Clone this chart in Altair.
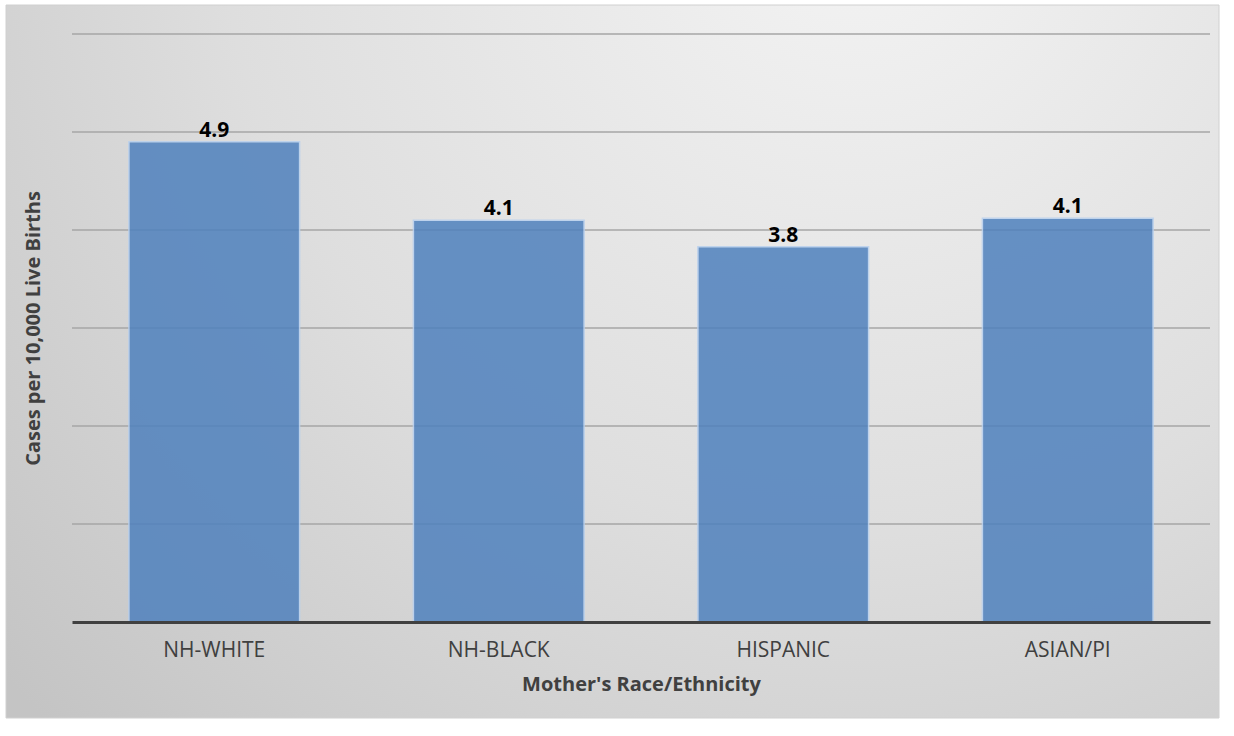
import altair as alt
import pandas as pd

categories = ["NH-WHITE", "NH-BLACK", "HISPANIC", "ASIAN/PI"]
values = [4.9, 4.1, 3.83, 4.12]
labels = ["4.9", "4.1", "3.8", "4.1"]
grid_values = [1, 2, 3, 4, 5, 6]

df = pd.DataFrame({"cat": categories, "val": values, "lbl": labels})
gdf = pd.DataFrame({"g": grid_values})

FONT = "Open Sans"

bg = alt.Chart(pd.DataFrame({"a": [0]})).mark_rect(
    color=alt.Gradient(
        gradient="radial",
        x1=0.7, y1=0.12, r1=0.0,
        x2=0.7, y2=0.12, r2=0.95,
        stops=[alt.GradientStop(color="#f4f4f4", offset=0),
               alt.GradientStop(color="#dedede", offset=0.55),
               alt.GradientStop(color="#c4c4c4", offset=1)],
    ),
    stroke="#d0d0d0",
    strokeWidth=1,
).encode(
    x=alt.value(-66), x2=alt.value(1147),
    y=alt.value(-29), y2=alt.value(684),
)

yscale = alt.Scale(domain=[0, 6])
yaxis = alt.Axis(title="Cases per 10,000 Live Births",
                 labels=False, ticks=False, domain=False, grid=False,
                 titleFont=FONT, titleFontSize=20, titleFontWeight="bold",
                 titleColor="#404040", titlePadding=29, zindex=1)

grid = alt.Chart(gdf).mark_rule(color="#a6a6a6", strokeWidth=1.5).encode(
    y=alt.Y("g:Q", scale=yscale, axis=yaxis),
    x=alt.value(0), x2=alt.value(1138),
)

xenc = alt.X("cat:N", sort=categories,
             scale=alt.Scale(paddingInner=0.4, paddingOuter=0.2),
             axis=alt.Axis(title="Mother's Race/Ethnicity", labelAngle=0,
                           ticks=False, domain=True, domainColor="#404040",
                           domainWidth=3, labelFont=FONT, labelFontSize=21,
                           labelColor="#404040", labelPadding=17,
                           titleFont=FONT, titleFontSize=20, titleFontWeight="bold",
                           titleColor="#404040", titlePadding=14, grid=False,
                           zindex=1))
yenc = alt.Y("val:Q", scale=yscale, axis=yaxis)

bars = alt.Chart(df).mark_bar(
    color="#4f81bd", opacity=0.85, stroke="#b8d0ee", strokeWidth=1.5
).encode(x=xenc, y=yenc)

text = alt.Chart(df).mark_text(
    font=FONT, fontSize=21, fontWeight="bold", color="#000000",
    baseline="alphabetic", dy=-5
).encode(x=alt.X("cat:N", sort=categories), y=alt.Y("val:Q"), text="lbl:N")

chart = alt.layer(bg, grid, bars, text).properties(
    width=1138, height=588,
    autosize=alt.AutoSizeParams(type="none"),
    padding={"left": 72, "top": 34, "right": 24, "bottom": 114},
    background="#ffffff",
).configure_view(stroke=None)

chart.save("out.html", embed_options={"renderer": "svg", "actions": False})
